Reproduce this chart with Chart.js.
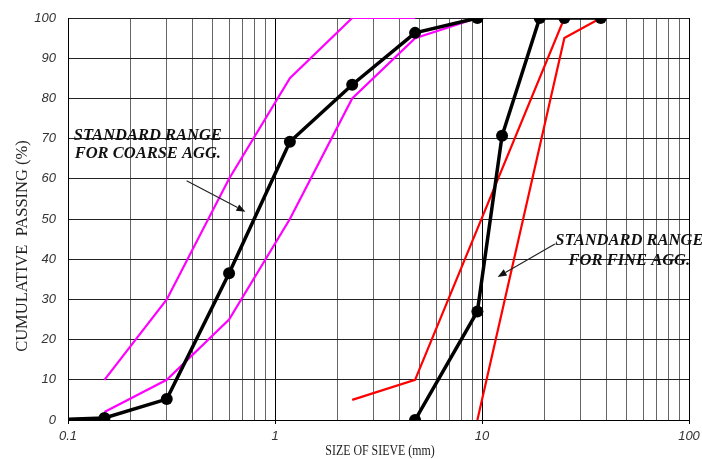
<!DOCTYPE html>
<html>
<head>
<meta charset="utf-8">
<script src="https://cdn.jsdelivr.net/npm/chart.js@4/dist/chart.umd.min.js"></script>
<style>
  html, body { margin: 0; padding: 0; background: #fff; }
  #wrap { width: 702px; height: 459px; position: relative; }
</style>
</head>
<body>
<div id="wrap"><canvas id="sieveChart"></canvas></div>
<script>
// Sieve sizes (mm) and cumulative passing (%)
const sampleCoarseSize = [0.1, 0.15, 0.3, 0.6, 1.18, 2.36, 4.75, 9.5];
const sampleCoarsePass = [0.2, 0.5, 5.2, 36.5, 69.2, 83.4, 96.3, 100];

const sampleFineSize = [4.75, 9.5, 12.5, 19, 25, 37.5];
const sampleFinePass = [0, 27, 70.7, 100, 100, 100];

// magenta envelope (labelled "coarse" on the picture)
const magentaUpperSize = [0.15, 0.3, 0.6, 1.18, 2.36, 4.75];
const magentaUpperPass = [10, 30, 60, 85, 100, 100];
const magentaLowerSize = [0.15, 0.3, 0.6, 1.18, 2.36, 4.75, 9.5];
const magentaLowerPass = [2, 10, 25, 50, 80, 95, 100];

// red envelope (labelled "fine" on the picture)
const redUpperSize = [2.36, 4.75, 25, 37.5];
const redUpperPass = [5, 10, 100, 100];
const redLowerSize = [9.5, 25, 37.5];
const redLowerPass = [0, 95, 100];

// axis ticks
const xMajorTicks = [0.1, 1, 10, 100];
const xTickLabels = ['0.1', '1', '10', '100'];
const yTicks = [0, 10, 20, 30, 40, 50, 60, 70, 80, 90, 100];

// annotation text and arrows, placed in data units (mm, %)
const notes = [
    { lines: ['STANDARD RANGE', 'FOR COARSE AGG.'], x: 0.243, y: [69.7, 65.2],
      arrow: { from: [0.374, 59.5], to: [0.72, 51.8] } },
    { lines: ['STANDARD RANGE', 'FOR FINE AGG.'], x: 51.5, y: [43.5, 38.6],
      arrow: { from: [22.5, 43.8], to: [11.9, 35.6] } }
];

function toPoints(xs, ys) {
    return xs.map((x, i) => ({ x: x, y: ys[i] }));
}

// every 1..9 step of each decade gets a grid line
const xGridValues = [];
xMajorTicks.forEach((d, i) => {
    if (i === xMajorTicks.length - 1) { xGridValues.push(d); return; }
    for (let k = 1; k <= 9; k++) xGridValues.push(+(d * k).toPrecision(3));
});

function isMajor(v) {
    return xMajorTicks.some(m => Math.abs(m - v) < 1e-9);
}

const annotationPlugin = {
    id: 'sieveNotes',
    afterDraw(chart) {
        const { ctx, scales } = chart;
        const sx = scales.x, sy = scales.y;
        ctx.save();

        // axis titles
        ctx.fillStyle = '#222';
        ctx.textAlign = 'center';
        ctx.textBaseline = 'alphabetic';
        ctx.save();
        ctx.translate(380, 455);
        ctx.scale(0.85, 1);  // the original title font is a little condensed
        ctx.font = '14px "Liberation Serif", "Times New Roman", serif';
        ctx.fillText('SIZE OF SIEVE (mm)', 0, 0);
        ctx.restore();
        ctx.save();
        ctx.translate(27, 246);
        ctx.rotate(-Math.PI / 2);
        ctx.font = '16.5px "Liberation Serif", "Times New Roman", serif';
        ctx.fillText('CUMULATIVE  PASSING (%)', 0, 0);
        ctx.restore();

        // standard range notes with arrows
        ctx.font = 'bold italic 16.5px "Liberation Serif", "Times New Roman", serif';
        notes.forEach(n => {
            const cx = sx.getPixelForValue(n.x);
            ctx.fillStyle = '#111';
            n.lines.forEach((t, i) => ctx.fillText(t, cx, sy.getPixelForValue(n.y[i])));

            const x1 = sx.getPixelForValue(n.arrow.from[0]), y1 = sy.getPixelForValue(n.arrow.from[1]);
            const x2 = sx.getPixelForValue(n.arrow.to[0]), y2 = sy.getPixelForValue(n.arrow.to[1]);
            const ang = Math.atan2(y2 - y1, x2 - x1);
            const head = 9, half = 3.5;
            ctx.strokeStyle = '#222';
            ctx.lineWidth = 1.2;
            ctx.beginPath();
            ctx.moveTo(x1, y1);
            ctx.lineTo(x2 - head * Math.cos(ang), y2 - head * Math.sin(ang));
            ctx.stroke();
            ctx.fillStyle = '#111';
            ctx.beginPath();
            ctx.moveTo(x2, y2);
            ctx.lineTo(x2 - head * Math.cos(ang) + half * Math.sin(ang), y2 - head * Math.sin(ang) - half * Math.cos(ang));
            ctx.lineTo(x2 - head * Math.cos(ang) - half * Math.sin(ang), y2 - head * Math.sin(ang) + half * Math.cos(ang));
            ctx.closePath();
            ctx.fill();
        });
        ctx.restore();
    }
};

const ctx = document.getElementById('sieveChart').getContext('2d');
const chart = new Chart(ctx, {
    type: 'scatter',
    data: {
        datasets: [
            {
                data: toPoints(sampleCoarseSize, sampleCoarsePass),
                showLine: true,
                borderColor: '#000',
                backgroundColor: '#000',
                borderWidth: 3.5,
                pointRadius: sampleCoarseSize.map((_, i) => i === 0 ? 0 : 6),
                pointBorderWidth: 0
            },
            {
                data: toPoints(sampleFineSize, sampleFinePass),
                showLine: true,
                borderColor: '#000',
                backgroundColor: '#000',
                borderWidth: 3.5,
                pointRadius: 6,
                pointBorderWidth: 0
            },
            {
                data: toPoints(magentaUpperSize, magentaUpperPass),
                showLine: true, borderColor: '#ff00ff', borderWidth: 2.2, pointRadius: 0
            },
            {
                data: toPoints(magentaLowerSize, magentaLowerPass),
                showLine: true, borderColor: '#ff00ff', borderWidth: 2.2, pointRadius: 0
            },
            {
                data: toPoints(redUpperSize, redUpperPass),
                showLine: true, borderColor: '#ff0000', borderWidth: 2.2, pointRadius: 0
            },
            {
                data: toPoints(redLowerSize, redLowerPass),
                showLine: true, borderColor: '#ff0000', borderWidth: 2.2, pointRadius: 0
            }
        ]
    },
    options: {
        responsive: true,
        maintainAspectRatio: false,
        animation: false,
        layout: { padding: { top: 18, right: 13, left: 0, bottom: 0 } },
        plugins: {
            legend: { display: false },
            tooltip: { enabled: false }
        },
        scales: {
            x: {
                type: 'logarithmic',
                min: 0.1,
                max: 100,
                afterBuildTicks: scale => { scale.ticks = xGridValues.map(v => ({ value: v })); },
                afterFit: scale => {
                    scale.height = 39;
                    scale.paddingRight = 0;
                    scale.paddingLeft = 0;
                },
                border: { color: '#000', width: 1 },
                grid: {
                    color: c => (c.tick && isMajor(c.tick.value)) ? '#000' : '#666',
                    tickColor: c => (c.tick && isMajor(c.tick.value)) ? '#000' : 'rgba(0,0,0,0)',
                    tickLength: 4,
                    lineWidth: 1
                },
                ticks: {
                    autoSkip: false,
                    maxRotation: 0,
                    padding: 5,
                    color: '#333',
                    font: { family: '"Liberation Sans", Arial, sans-serif', size: 13, style: 'italic' },
                    callback: value => {
                        const i = xMajorTicks.findIndex(m => Math.abs(m - value) < 1e-9);
                        return i >= 0 ? xTickLabels[i] : '';
                    }
                }
            },
            y: {
                min: 0,
                max: 100,
                afterBuildTicks: scale => { scale.ticks = yTicks.map(v => ({ value: v })); },
                afterFit: scale => {
                    scale.width = 68;
                    scale.paddingTop = 0;
                    scale.paddingBottom = 0;
                },
                border: { color: '#000', width: 1 },
                grid: { color: '#222', lineWidth: 1, drawTicks: false },
                ticks: {
                    padding: 12,
                    color: '#333',
                    font: { family: '"Liberation Sans", Arial, sans-serif', size: 13, style: 'italic' }
                }
            }
        }
    },
    plugins: [annotationPlugin]
});
</script>
</body>
</html>
